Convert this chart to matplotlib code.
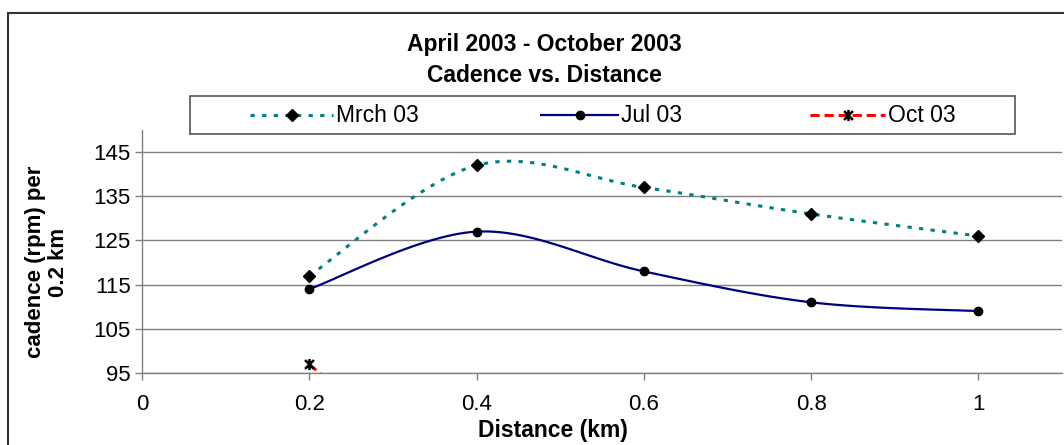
import numpy as np
import matplotlib
matplotlib.use("Agg")
import matplotlib.pyplot as plt
from matplotlib.path import Path
from matplotlib.patches import Rectangle
from matplotlib.lines import Line2D

plt.rcParams['font.family'] = ['Liberation Sans', 'DejaVu Sans']

distance = [0.2, 0.4, 0.6, 0.8, 1.0]
mrch_03 = [117, 142, 137, 131, 126]
jul_03 = [114, 127, 118, 111, 109]
oct_x = [0.2, 0.4]
oct_03 = [97, 64]
series_names = ["Mrch 03", "Jul 03", "Oct 03"]
yticks = [95, 105, 115, 125, 135, 145]
xticks = [0, 0.2, 0.4, 0.6, 0.8, 1]
xtick_labels = ["0", "0.2", "0.4", "0.6", "0.8", "1"]

W, H = 1064, 445
fig = plt.figure(figsize=(W / 100, H / 100), dpi=100)

def smooth(xs, ys, n=30):
    xs = np.asarray(xs, float)
    ys = np.asarray(ys, float)
    px = np.concatenate([[xs[0]], xs, [xs[-1]]])
    py = np.concatenate([[ys[0]], ys, [ys[-1]]])
    sx = 1.0 / 0.1
    sy = 1.0 / 10.0
    ox, oy = [], []
    for i in range(1, len(px) - 2):
        t = np.linspace(0, 1, n)
        p0 = np.array([px[i - 1] * sx, py[i - 1] * sy])
        p1 = np.array([px[i] * sx, py[i] * sy])
        p2 = np.array([px[i + 1] * sx, py[i + 1] * sy])
        p3 = np.array([px[i + 2] * sx, py[i + 2] * sy])
        c1 = p1 + (p2 - p0) / 6
        c2 = p2 - (p3 - p1) / 6
        for tt in t:
            b = ((1 - tt) ** 3) * p1 + 3 * ((1 - tt) ** 2) * tt * c1 + 3 * (1 - tt) * tt ** 2 * c2 + tt ** 3 * p2
            ox.append(b[0] / sx)
            oy.append(b[1] / sy)
    return np.array(ox), np.array(oy)

# axes placement (pixels)
left, right = 142, 1062
bottom, top = 373, 130
ax = fig.add_axes([left / W, 1 - bottom / H, (right - left) / W, (bottom - top) / H])
ax.set_xlim(0, 1.1)
ax.set_ylim(95, 150)

grid_col = '#808080'
for y in yticks:
    ax.axhline(y, color=grid_col, lw=1.0, zorder=1)

teal = '#008080'
navy = '#000080'
red = '#FF0000'
teal_ls = (0, (1.4, 2.4))
red_ls = (0, (3.0, 1.6))

sx_, sy_ = smooth(distance, mrch_03)
ax.plot(sx_, sy_, color=teal, lw=2.2, linestyle=teal_ls, zorder=3)
ax.plot(distance, mrch_03, linestyle='none', marker='D', color='black', ms=6.5, zorder=4)

sx_, sy_ = smooth(distance, jul_03)
ax.plot(sx_, sy_, color=navy, lw=1.6, zorder=3)
ax.plot(distance, jul_03, linestyle='none', marker='o', color='black', ms=6, zorder=4)

star = Path([(0, -1), (0, 1), (-0.8, -0.8), (0.8, 0.8), (-0.8, 0.8), (0.8, -0.8)],
            [Path.MOVETO, Path.LINETO, Path.MOVETO, Path.LINETO, Path.MOVETO, Path.LINETO])
sx_, sy_ = smooth(oct_x, oct_03)
ax.plot(sx_, sy_, color=red, lw=2.2, linestyle=red_ls, zorder=3)
ax.plot(oct_x, oct_03, linestyle='none', marker=star, color='black', mec='black', mew=1.8, ms=8, zorder=4)

for s in ['top', 'right']:
    ax.spines[s].set_visible(False)
for s in ['left', 'bottom']:
    ax.spines[s].set_color(grid_col)
    ax.spines[s].set_linewidth(1.0)

ax.set_yticks(yticks)
ax.set_xticks(xticks)
ax.set_xticklabels(xtick_labels)
ax.tick_params(axis='both', direction='out', length=5, width=1, color=grid_col,
               labelsize=16, labelcolor='black')
ax.tick_params(axis='y', pad=3)
ax.tick_params(axis='x', pad=10)

# chart border
fig.patches.append(Rectangle((8 / W, -0.1), 1.2, 1 - 13 / H + 0.1, transform=fig.transFigure,
                             fill=False, edgecolor='#333333', lw=1.5, zorder=0))

fig.text(544 / W, 1 - 45 / H, "April 2003 - October 2003", ha='center', va='center',
         fontsize=16.5, fontweight='bold')
fig.text(544 / W, 1 - 75 / H, "Cadence vs. Distance", ha='center', va='center',
         fontsize=16.5, fontweight='bold')

fig.text(47 / W, 1 - 262 / H, "cadence (rpm) per\n0.2 km", ha='center', va='center',
         rotation=90, fontsize=16, fontweight='bold', linespacing=1.15)
fig.text(553 / W, 1 - 430 / H, "Distance (km)", ha='center', va='center',
         fontsize=16.5, fontweight='bold')

# legend box
lx0, lx1, ly0, ly1 = 190, 1015, 96, 134
fig.patches.append(Rectangle((lx0 / W, 1 - ly1 / H), (lx1 - lx0) / W, (ly1 - ly0) / H,
                             transform=fig.transFigure, fill=False, edgecolor='#555555', lw=1.2))
ly = 1 - 115 / H
entries = [
    (250, 333, dict(color=teal, lw=2.2, linestyle=teal_ls), dict(marker='D', ms=6.5), series_names[0]),
    (541, 618, dict(color=navy, lw=1.6), dict(marker='o', ms=6), series_names[1]),
    (810, 885, dict(color=red, lw=2.2, linestyle=red_ls), dict(marker=star, ms=8, mew=1.8), series_names[2]),
]
for x0, x1, lkw, mkw, name in entries:
    fig.lines.append(Line2D([x0 / W, x1 / W], [ly, ly], transform=fig.transFigure, **lkw))
    fig.lines.append(Line2D([(x0 + x1) / 2 / W], [ly], transform=fig.transFigure, linestyle='none',
                            color='black', mec='black', **mkw))
    fig.text((x1 + 3) / W, ly, name, ha='left', va='center', fontsize=16.5)

fig.savefig("out.png", dpi=100)
